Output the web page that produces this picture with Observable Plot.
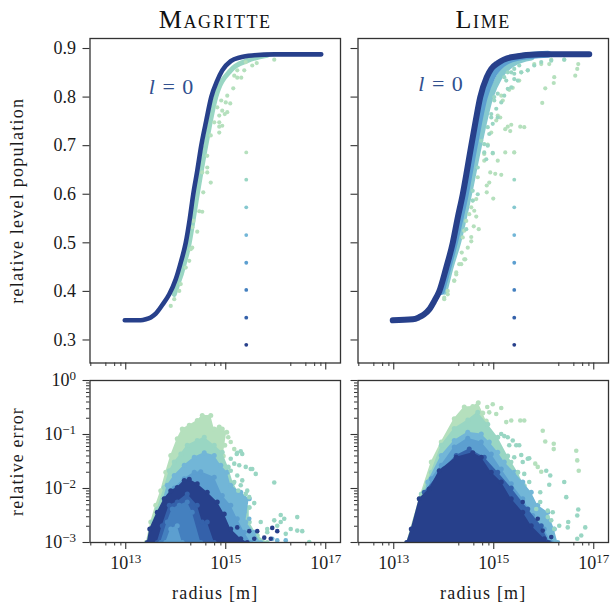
<!DOCTYPE html>
<html><head><meta charset="utf-8">
<script src="https://cdn.jsdelivr.net/npm/d3@7"></script>
<script src="https://cdn.jsdelivr.net/npm/@observablehq/plot@0.6"></script>
<style>
html,body{margin:0;padding:0;background:#fff}
#c{position:relative;width:611px;height:604px;overflow:hidden}
#c svg{position:absolute;left:0;top:0;background:transparent;overflow:visible}
</style></head><body><div id="c"></div>
<script>
const levelColors = ["#b5e0bd","#99d6c3","#85c8cf","#72b6d7","#5c9fd0","#4480bf","#3461aa","#27408b"];
const majorX = [13,15,17];
const minorX = [12,14,16].flatMap(d=>[2,4,6,8].map(s=>s*10**d));
const valueTicks = [0.3,0.4,0.5,0.6,0.7,0.8,0.9];
const errorTicks = [-3,-2,-1,0];
const probeRadius = 15.41;
const probeValues = [0.686,0.630,0.573,0.516,0.459,0.403,0.346,0.290];

// top panels: [log10 radius, relative population]
const magCurve = [[12.98,.3405],[13.30,.3405],[13.40,.3425],[13.50,.3465],[13.60,.3543],[13.73,.372],[13.87,.394],[14.0,.425],[14.10,.4595],[14.2,.50],[14.28,.549],[14.35,.60],[14.43,.648],[14.51,.70],[14.61,.7515],[14.71,.80],[14.83,.834],[14.93,.855],[15.1,.874],[15.3,.882],[15.57,.886],[15.97,.888],[16.91,.888]];
const magBand = [[13.97,.394],[14.27,.50],[14.43,.60],[14.6,.70],[14.8,.80],[15.1,.855],[15.43,.875],[15.83,.886]];
const magGreen = [[15.97,.877],[15.62,.870],[15.53,.865],[15.40,.872],[15.37,.855],[15.23,.855],[15.17,.844],[15.31,.840],[15.23,.840],[15.15,.818],[15.03,.803],[14.91,.793],[15.0,.789],[15.09,.787],[14.83,.779],[14.93,.772],[15.03,.769],[14.87,.762],[14.98,.765],[14.87,.748],[14.77,.748],[14.93,.741],[14.87,.739],[14.87,.727],[14.70,.721],[14.63,.679],[14.63,.655],[14.53,.645],[14.63,.645],[14.70,.624],[14.55,.604],[14.47,.565],[14.53,.564],[14.43,.523],[14.33,.532],[14.35,.545],[14.33,.490],[14.30,.487],[14.27,.463],[14.20,.449],[14.10,.415],[14.07,.401],[13.97,.384],[13.90,.370]];
const limeCurve = [[12.98,.3405],[13.38,.3426],[13.50,.3465],[13.60,.352],[13.71,.363],[13.81,.380],[13.91,.400],[14.05,.449],[14.18,.500],[14.28,.552],[14.38,.600],[14.47,.652],[14.55,.700],[14.64,.752],[14.73,.800],[14.86,.841],[14.95,.858],[15.08,.870],[15.35,.882],[15.95,.888],[16.91,.888]];
const limeBlueBand = [[13.95,.400],[14.21,.500],[14.43,.600],[14.61,.700],[14.81,.800],[14.96,.841],[15.18,.869],[15.48,.882],[16.08,.888]];
const limeTealBand = [[14.01,.400],[14.13,.449],[14.28,.500],[14.50,.600],[14.70,.700],[14.93,.800],[15.11,.841],[15.38,.869],[15.75,.882]];
const limeGreen = [[16.69,.868],[16.67,.858],[16.63,.844],[16.41,.877],[16.15,.877],[16.11,.868],[15.95,.868],[15.81,.868],[15.68,.855],[15.55,.851],[16.21,.841],[16.20,.829],[16.03,.818],[15.97,.788],[15.51,.834],[15.38,.819],[15.31,.815],[15.15,.803],[15.18,.793],[15.08,.762],[15.13,.758],[15.05,.752],[15.35,.743],[15.28,.739],[15.23,.734],[15.33,.730],[15.53,.739],[15.61,.738],[14.95,.727],[15.23,.686],[15.41,.686],[14.98,.684],[15.08,.669],[14.88,.702],[14.81,.683],[14.81,.669],[14.93,.645],[15.03,.642],[15.15,.640],[14.91,.624],[14.86,.618],[14.86,.604],[14.99,.591],[14.65,.590],[14.58,.587],[14.55,.573],[14.65,.554],[14.60,.534],[14.70,.528],[14.55,.512],[14.55,.503],[14.48,.490],[14.43,.466],[14.35,.456],[14.25,.435],[14.21,.422],[14.08,.394],[14.01,.384],[14.68,.635],[14.61,.566],[14.51,.559],[14.45,.545],[14.41,.525],[14.38,.511],[14.36,.480],[14.41,.466],[14.31,.456],[14.25,.439],[14.21,.422],[14.08,.401],[14.01,.387]];
const limeTeal = [[15.51,.865],[15.41,.858],[15.35,.851],[15.25,.834],[15.01,.800],[14.95,.765],[14.88,.738],[14.81,.703],[14.68,.655],[14.58,.607],[15.41,.848],[15.28,.851],[15.21,.841],[15.41,.837],[15.48,.834],[15.35,.820],[15.28,.817],[15.21,.803],[15.08,.807],[15.01,.793],[15.15,.789],[15.05,.776],[14.95,.758],[15.08,.758],[14.98,.745],[14.91,.724],[14.75,.710],[14.88,.700],[14.81,.686],[14.85,.672],[14.98,.685],[15.81,.865],[15.68,.855],[15.55,.851],[15.95,.872],[16.15,.875],[16.41,.877],[14.68,.600],[14.58,.587],[14.45,.528]];

// bottom panels: [log10 radius, log10 relative error]
const magErrGreen = [[13.41,-3],[13.50,-2.62],[13.60,-2.31],[13.70,-2.04],[13.80,-1.70],[13.90,-1.39],[14.03,-1.08],[14.13,-.90],[14.27,-.83],[14.43,-.74],[14.53,-.65],[14.70,-.65],[14.77,-.90],[14.87,-.86],[14.93,-.90],[15.02,-.96],[14.98,-1.2],[14.95,-1.4],[14.95,-3]];
const magErrTeal = [[13.47,-3],[13.53,-2.62],[13.63,-2.38],[13.77,-1.98],[13.87,-1.67],[13.97,-1.51],[14.10,-1.36],[14.23,-1.20],[14.43,-1.11],[14.57,-1.05],[14.77,-1.20],[14.93,-1.33],[15.05,-1.6],[15.15,-1.9],[15.30,-2.15],[15.47,-2.35],[15.47,-2.62],[15.63,-2.87],[15.83,-3]];
const magErrSky = [[13.57,-3],[13.63,-2.62],[13.83,-1.94],[13.97,-1.76],[14.17,-1.57],[14.37,-1.42],[14.57,-1.34],[14.77,-1.39],[14.90,-1.57],[15.03,-1.70],[15.10,-1.94],[15.30,-2.07],[15.47,-2.19],[15.40,-2.62],[15.57,-2.81],[15.70,-3]];
const magErrMid = [[13.63,-3],[13.77,-2.19],[13.97,-1.99],[14.17,-1.82],[14.37,-1.70],[14.50,-1.69],[14.77,-1.79],[14.93,-2.13],[15.10,-2.31],[15.23,-2.56],[15.37,-2.81],[15.50,-3]];
const magErrNavy = [[13.43,-3],[13.48,-2.75],[13.63,-2.44],[13.77,-2.19],[13.90,-2.04],[14.03,-1.98],[14.17,-1.85],[14.27,-1.83],[14.43,-1.91],[14.63,-2.07],[14.83,-2.25],[14.97,-2.47],[15.10,-2.75],[15.30,-2.93],[15.43,-3]];
const magErrInnerA = [[13.63,-3],[13.73,-2.69],[13.87,-2.31],[14.03,-2.25],[14.23,-2.10],[14.43,-2.31],[14.53,-2.62],[14.63,-2.62],[14.77,-3]];
const magErrInnerB = [[13.70,-3],[13.83,-2.62],[13.93,-2.38],[14.07,-2.31],[14.23,-2.25],[14.33,-2.44],[14.50,-3]];
const magErrInnerC = [[13.80,-3],[13.90,-2.75],[14.03,-2.69],[14.13,-3]];
const magErrGreenDots = [[15.10,-1.14],[15.17,-1.27],[15.05,-1.05]];
const magErrTealDots = [[15.97,-1.89],[15.60,-1.73],[15.50,-1.64],[15.30,-1.31],[15.22,-1.36],[15.33,-1.36],[15.97,-2.59],[16.10,-2.49],[16.17,-2.56],[16.03,-2.69],[16.30,-2.75],[16.43,-2.78],[16.53,-2.79],[16.43,-2.53],[16.67,-2.99],[16.20,-2.84],[15.83,-2.81],[16.10,-2.62],[15.70,-2.62],[15.83,-2.75],[15.10,-1.45],[15.23,-1.34],[15.17,-1.54],[15.27,-1.57],[15.40,-1.60],[15.53,-1.64],[15.10,-1.67],[15.23,-1.76],[15.33,-1.85],[15.17,-1.88],[15.30,-1.94],[15.43,-2.04],[15.47,-2.16],[15.57,-2.27],[15.40,-2.10],[15.25,-2.04]];
const magErrSkyDots = [[16.20,-2.96],[16.03,-2.96],[15.93,-2.93],[15.47,-2.56],[15.37,-2.44]];
const magErrNavyDots = [[15.63,-2.79],[15.93,-2.73],[16.03,-2.79],[15.90,-2.93],[15.77,-2.91],[15.57,-2.93],[15.47,-2.79],[15.23,-2.72]];

const limeErrGreen = [[13.26,-3],[13.51,-2.19],[13.75,-1.51],[13.95,-1.14],[14.21,-.71],[14.41,-.49],[14.58,-.48],[14.69,-.41],[14.78,-.6],[14.85,-.75],[14.9,-3]];
const limeErrTeal = [[13.31,-3],[13.55,-2.10],[13.75,-1.70],[13.95,-1.20],[14.21,-.89],[14.48,-.73],[14.68,-.59],[14.88,-.81],[15.08,-1.05],[15.28,-1.4],[15.48,-1.7],[15.61,-1.95],[15.75,-2.2],[15.88,-2.45],[16.01,-2.6],[16.15,-2.8],[16.25,-3]];
const limeErrSky = [[13.38,-3],[13.68,-1.88],[13.95,-1.39],[14.21,-1.11],[14.48,-.96],[14.75,-.99],[14.91,-1.14],[15.08,-1.33],[15.21,-1.51],[15.41,-1.70],[15.58,-1.88],[15.75,-2.07],[15.88,-2.31],[16.08,-2.44],[16.21,-2.75],[16.28,-3]];
const limeErrMid = [[13.45,-3],[13.75,-1.82],[13.95,-1.57],[14.21,-1.23],[14.48,-1.07],[14.75,-1.14],[14.95,-1.36],[15.15,-1.64],[15.35,-1.91],[15.58,-2.19],[15.78,-2.50],[16.01,-2.75],[16.15,-3]];
const limeErrBlue = [[13.29,-3],[13.61,-2.07],[14.0,-1.64],[14.25,-1.39],[14.51,-1.27],[14.81,-1.42],[15.08,-1.70],[15.35,-1.99],[15.68,-2.38],[15.95,-2.69],[16.11,-3]];
const limeErrNavy = [[13.26,-3],[13.35,-2.75],[13.51,-2.19],[13.71,-2.01],[13.91,-1.67],[14.25,-1.42],[14.58,-1.34],[14.75,-1.42],[14.95,-1.70],[15.15,-1.88],[15.35,-2.19],[15.58,-2.44],[15.75,-2.69],[16.01,-2.93],[16.08,-3]];
const limeErrGreenDots = [[14.87,-.49],[14.98,-.44],[15.15,-.51],[14.91,-.59],[15.05,-.62],[15.25,-.77],[15.35,-.74],[15.53,-.74],[15.61,-.74],[15.98,-.93],[16.20,-1.17],[16.20,-1.27],[16.03,-1.13],[16.65,-1.30],[16.67,-1.48],[16.70,-1.67],[15.83,-1.54],[15.88,-1.60],[15.95,-1.69]];
const limeErrTealDots = [[16.41,-1.88],[16.11,-1.93],[16.45,-2.16],[16.69,-2.39],[16.67,-2.50],[16.49,-2.62],[16.48,-2.72],[16.83,-2.72],[16.75,-2.87],[16.67,-2.93],[16.31,-2.69],[16.15,-2.59],[16.21,-2.75],[15.71,-1.44],[15.55,-1.38],[15.51,-1.20],[15.38,-1.11],[16.13,-1.76],[16.05,-1.67],[15.93,-2.07],[15.93,-2.25],[16.08,-2.41],[16.18,-2.44],[15.15,-.99],[15.21,-1.03],[15.28,-1.05],[15.31,-1.20],[15.45,-1.20],[15.41,-1.42],[15.68,-1.45],[15.58,-1.51],[15.35,-1.51],[15.48,-1.70],[15.61,-1.73],[15.71,-1.88],[15.85,-2.38],[16.08,-2.53]];
const limeErrNavyDots = [[15.58,-2.25],[16.15,-2.90],[15.98,-2.78],[15.88,-2.56]];

const FONT = "'Liberation Serif', serif", INK = "#1a1a1a", FRAME = "#333";
const W = 611, H = 604;
const pts = a => a.map(([r,v]) => ({r:10**r, v}));
const errs = a => a.map(([r,e]) => ({r:10**r, v:10**e}));
const X = {type:"log", domain:[10**12.285,10**17.295]};
const minorErr = errorTicks.slice(0,3).flatMap(d=>[2,3,4,5,6,7,8,9].map(s=>s*10**d));

function xAxes(labelled){
  return [
    Plot.axisX({ticks:minorX, tickSize:3.5, tickFormat:()=>"", stroke:FRAME, strokeWidth:1, label:null}),
    Plot.axisX({ticks:majorX.map(d=>10**d), tickSize:7, tickPadding:7, stroke:FRAME, strokeWidth:1.1,
      tickFormat:labelled ? (d=>"10^"+Math.round(Math.log10(d))) : ()=>"", fontSize:18,
      label:labelled ? "radius [m]" : null, labelAnchor:"center", labelArrow:"none", labelOffset:56})
  ];
}
function topPanel(left,right,title,curve,bands,greens,teals,curveW,lx,ly,labelled){
  return Plot.plot({width:W,height:H,marginLeft:left,marginRight:W-right,marginTop:38,marginBottom:H-362.5,
    style:{fontFamily:FONT,fontSize:"18px",color:INK,background:"transparent"},
    x:X, y:{domain:[.2526,.9206]},
    marks:[
      ...bands.map(([a,c,w])=>Plot.line(pts(a),{x:"r",y:"v",stroke:c,strokeWidth:w,curve:"monotone-x",strokeLinecap:"round"})),
      Plot.dot(pts(greens),{x:"r",y:"v",r:2.1,fill:levelColors[0]}),
      Plot.dot(pts(teals),{x:"r",y:"v",r:2.1,fill:levelColors[1]}),
      Plot.line(pts(curve),{x:"r",y:"v",stroke:levelColors[7],strokeWidth:curveW,curve:"monotone-x",strokeLinecap:"round"}),
      Plot.dot(probeValues,{x:()=>10**probeRadius,y:d=>d,r:1.9,fill:(d,i)=>levelColors[i]}),
      Plot.text(["l = 0"],{x:()=>10**lx,y:()=>ly,text:d=>d,fill:"#31508f",fontSize:22,textAnchor:"start",fontFamily:FONT}),
      Plot.text([title],{frameAnchor:"top",dy:-29,text:d=>d,fontSize:26,fontVariant:"small-caps",fill:"#111",fontFamily:FONT}),
      Plot.frame({stroke:FRAME,strokeWidth:1.3}),
      ...xAxes(false),
      Plot.axisY({ticks:valueTicks,tickSize:7,tickPadding:7,stroke:FRAME,strokeWidth:1.1,fontSize:18,
        tickFormat:labelled?(d=>d.toFixed(1)):()=>"",label:labelled?"relative level population":null,
        labelAnchor:"center",labelArrow:"none",labelOffset:80})
    ]});
}
function bottomPanel(left,right,layers,dots,labelled){
  return Plot.plot({width:W,height:H,marginLeft:left,marginRight:W-right,marginTop:380,marginBottom:H-542,
    style:{fontFamily:FONT,fontSize:"18px",color:INK,background:"transparent"},
    x:X, y:{type:"log",domain:[1e-3,1]},
    marks:[
      ...layers.flatMap(([a,c])=>[
        Plot.area(errs(a),{x1:"r",y1:()=>1e-3,y2:"v",fill:c,clip:"frame"}),
        Plot.dot(errs(a),{x:"r",y:"v",r:2.5,fill:c,clip:"frame"})
      ]),
      ...dots.map(([a,c])=>Plot.dot(errs(a),{x:"r",y:"v",r:2.3,fill:c,clip:"frame"})),
      Plot.frame({stroke:FRAME,strokeWidth:1.3}),
      ...xAxes(true),
      Plot.axisY({ticks:minorErr,tickSize:3.5,tickFormat:()=>"",stroke:FRAME,strokeWidth:1,label:null}),
      Plot.axisY({ticks:errorTicks.map(d=>10**d),tickSize:7,tickPadding:7,stroke:FRAME,strokeWidth:1.1,fontSize:18,
        tickFormat:labelled?(d=>"10^"+Math.round(Math.log10(d))):()=>"",label:labelled?"relative error":null,
        labelAnchor:"center",labelArrow:"none",labelOffset:80})
    ]});
}
const c = levelColors;
const figures = [
  topPanel(89.5,340,"Magritte",magCurve,[[magBand,c[1],5]],magGreen,[],4.6,13.46,.82,true),
  topPanel(357.5,608,"Lime",limeCurve,[[limeTealBand,c[2],6.5],[limeBlueBand,c[4],7]],limeGreen,limeTeal,6,13.49,.828,false),
  bottomPanel(89.5,340,[[magErrGreen,c[0]],[magErrTeal,c[1]],[magErrSky,c[3]],[magErrMid,c[4]],[magErrNavy,c[7]],[magErrInnerA,c[6]],[magErrInnerB,c[5]],[magErrInnerC,c[4]]],
    [[magErrGreenDots,c[0]],[magErrTealDots,c[1]],[magErrSkyDots,c[3]],[magErrNavyDots,c[7]]],true),
  bottomPanel(357.5,608,[[limeErrGreen,c[0]],[limeErrTeal,c[1]],[limeErrSky,c[3]],[limeErrMid,c[4]],[limeErrBlue,c[6]],[limeErrNavy,c[7]]],
    [[limeErrGreenDots,c[0]],[limeErrTealDots,c[1]],[limeErrNavyDots,c[7]]],false)
];
const spaced = {"relative level population":"1.25px","relative error":"1.1px","radius [m]":"1.2px","Magritte":"1.6px","Lime":"1.6px"};
const host = document.getElementById("c");
for (const f of figures) {
  host.appendChild(f);
  d3.select(f).selectAll("text").each(function(){
    const el = d3.select(this), s = el.text();
    if (/^10\^/.test(s)) {
      const e = s.slice(3).replace("-","\u2212");
      el.text("10");
      el.append("tspan").attr("dy","-0.45em").attr("font-size","13px").text(e);
    } else if (s === "l = 0") {
      el.text("");
      el.append("tspan").attr("font-style","italic").text("l");
      el.append("tspan").attr("word-spacing","2px").text(" = 0");
    } else if (spaced[s]) {
      el.style("letter-spacing",spaced[s]);
    }
  });
}
</script></body></html>
